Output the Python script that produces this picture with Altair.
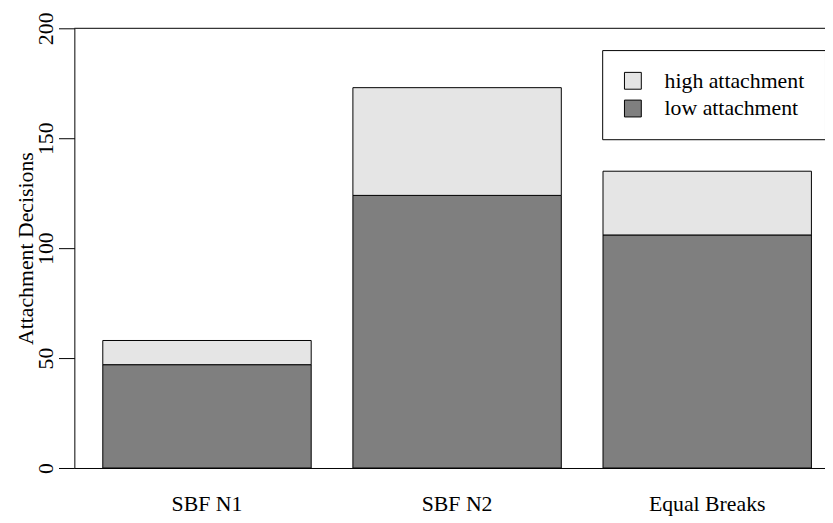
import altair as alt
import pandas as pd

categories = ["SBF N1", "SBF N2", "Equal Breaks"]
low_attachment = [47, 124, 106]
high_attachment = [11, 49, 29]   # stacked above the low part (totals 58, 173, 135)
series = ["high attachment", "low attachment"]
y_ticks = [0, 50, 100, 150, 200]

rows = []
for c, lo, hi in zip(categories, low_attachment, high_attachment):
    rows.append({"condition": c, "type": "low attachment", "count": lo})
    rows.append({"condition": c, "type": "high attachment", "count": hi})
df = pd.DataFrame(rows)

FONT = "Liberation Serif"

yscale = alt.Scale(domain=[0, 200], nice=False, zero=True)

bars = alt.Chart(df).transform_calculate(
    stack_rank="datum.type == 'low attachment' ? 0 : 1"
).mark_bar(stroke="black", strokeWidth=1).encode(
    x=alt.X("condition:N", sort=categories,
            scale=alt.Scale(range=[0, 773], paddingInner=0.1667, paddingOuter=0.1137),
            axis=alt.Axis(title=None, labelAngle=0, ticks=False, domain=True,
                          domainColor="black", domainWidth=1,
                          labelFont=FONT, labelFontSize=22, labelColor="black",
                          labelPadding=26, labelBaseline="top")),
    y=alt.Y("count:Q", stack="zero", scale=yscale,
            axis=alt.Axis(title="Attachment Decisions", values=y_ticks, grid=False,
                          domainColor="black", domainWidth=1,
                          tickColor="black", tickSize=16, tickWidth=1,
                          labelAngle=270, labelAlign="center", labelBaseline="alphabetic",
                          labelPadding=6, labelFont=FONT, labelFontSize=22,
                          labelColor="black",
                          titleFont=FONT, titleFontSize=22, titleFontWeight="normal",
                          titleColor="black", titleAngle=270, titleAlign="center",
                          titleBaseline="alphabetic", titleX=-42, titleY=222)),
    color=alt.Color("type:N",
                    scale=alt.Scale(domain=series, range=["#e5e5e5", "#7f7f7f"]),
                    legend=alt.Legend(title=None, orient="none", legendX=533, legendY=22,
                                      strokeColor="black", padding=20,
                                      symbolType="square", symbolSize=289,
                                      symbolStrokeColor="black", symbolStrokeWidth=1,
                                      symbolOpacity=1,
                                      labelFont=FONT, labelFontSize=22, labelColor="black",
                                      labelOffset=21, rowPadding=6)),
    order=alt.Order("stack_rank:Q", sort="ascending"),
)

top_line = alt.Chart(pd.DataFrame({"v": [200]})).mark_rule(
    color="black", strokeWidth=1
).encode(y=alt.Y("v:Q", scale=yscale))

chart = alt.layer(bars, top_line).properties(
    width=758, height=444,
    autosize=alt.AutoSizeParams(type="none"),
    padding={"left": 67, "top": 18, "right": 0, "bottom": 50},
    background="white",
).configure_view(stroke=None)

chart.save("out.html", embed_options={"renderer": "svg", "actions": False})
